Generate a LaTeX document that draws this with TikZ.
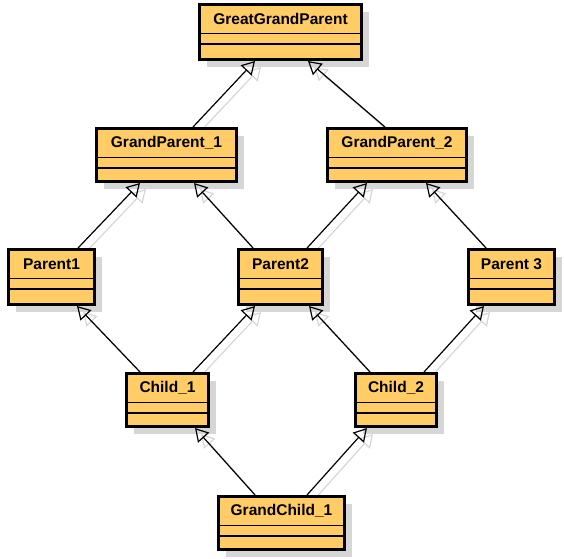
\documentclass[tikz,border=0pt]{standalone}
\usepackage{fontspec}
\setmainfont{Liberation Sans}
\usetikzlibrary{arrows.meta,calc,shadows}
\definecolor{boxfill}{HTML}{FFCC66}
\definecolor{shadowgray}{HTML}{D6D6D6}
\pgfdeclarelayer{bg}
\pgfsetlayers{bg,main}
\newcommand\umlclass[6]{%
  \node[umlbox, minimum width=#4pt, minimum height=#5pt] (#1) at (#2,#3) {};
  \node[classtitle] (#1-t) at ([yshift=-16pt]#1.north) {#6};
  \draw[sepline] ([yshift=-30.5pt]#1.north west) -- ([yshift=-30.5pt]#1.north east);
  \draw[sepline] ([yshift=-41pt]#1.north west) -- ([yshift=-41pt]#1.north east);
}
\newcommand\inh[4]{% from, xshift, to, xshift
  \draw[inherit] ([xshift=#2pt]#1.north) -- ([xshift=#4pt]#3.south);
  \begin{pgfonlayer}{bg}
    \draw[inheritshadow] ([xshift=#2pt+6pt,yshift=-6pt]#1.north) -- ([xshift=#4pt+6pt,yshift=-6pt]#3.south);
  \end{pgfonlayer}
}
\begin{document}
\begin{tikzpicture}[x=1pt,y=-1pt,
  umlbox/.style={draw=black, line width=3pt, fill=boxfill, inner sep=0pt,
    drop shadow={shadow xshift=7pt, shadow yshift=-7pt, fill=shadowgray, opacity=1}},
  classtitle/.style={font=\bfseries\fontsize{15.5}{18}\selectfont, inner sep=0pt},
  sepline/.style={line width=1.3pt},
  inherit/.style={line width=1.2pt, -{Triangle[open,length=13pt,width=15pt,line width=1.2pt]}},
  inheritshadow/.style={inherit, draw=shadowgray}]
\useasboundingbox (0,0) rectangle (564,558);
\umlclass{ggp}{280.5}{32}{162}{55}{GreatGrandParent}
\umlclass{gp1}{166.5}{155}{140}{53}{GrandParent\_1}
\umlclass{gp2}{397}{155}{139}{53}{GrandParent\_2}
\umlclass{p1}{51.5}{277}{86}{55}{Parent1}
\umlclass{p2}{280.5}{277}{84}{55}{Parent2}
\umlclass{p3}{511.5}{277}{86}{55}{Parent 3}
\umlclass{c1}{167.5}{400}{82}{53}{Child\_1}
\umlclass{c2}{396}{400}{81}{53}{Child\_2}
\umlclass{gc}{281.5}{523}{126}{53}{GrandChild\_1}
\inh{gp1}{26.5}{ggp}{-25.5}
\inh{gp2}{-12}{ggp}{27.5}
\inh{p1}{26.5}{gp1}{-26.5}
\inh{p2}{-27.5}{gp1}{27.5}
\inh{p2}{26.5}{gp2}{-30}
\inh{p3}{-25.5}{gp2}{29}
\inh{c1}{-27.5}{p1}{25.5}
\inh{c1}{25.5}{p2}{-25.5}
\inh{c2}{-26}{p2}{28.5}
\inh{c2}{28}{p3}{-27.5}
\inh{gc}{-26.5}{c1}{27.5}
\inh{gc}{25.5}{c2}{-29}
\end{tikzpicture}
\end{document}
